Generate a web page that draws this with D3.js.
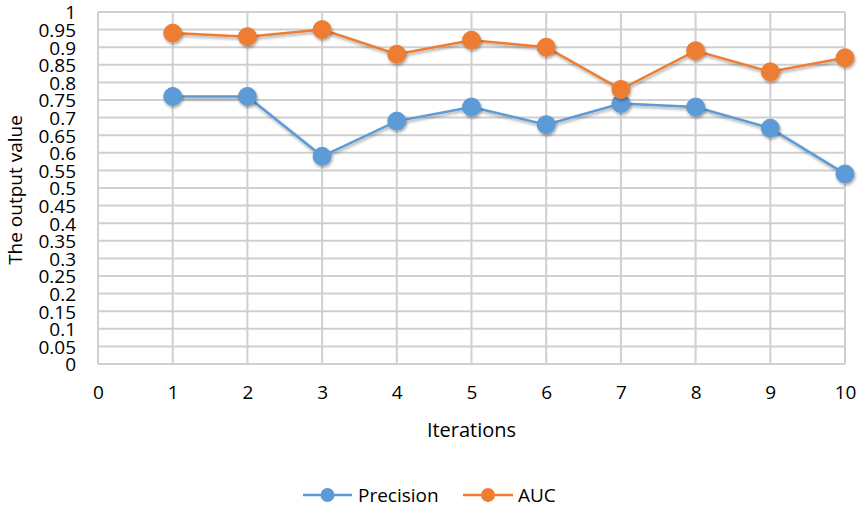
<!DOCTYPE html>
<html><head><meta charset="utf-8">
<script src="https://cdn.jsdelivr.net/npm/d3@7/dist/d3.min.js"></script>
<style>body{margin:0;background:#fff}svg{display:block}text{font-family:"Open Sans",Lato,sans-serif;fill:#000}</style>
</head><body>
<script>
const iterations = [1,2,3,4,5,6,7,8,9,10];
const precision = [0.76,0.76,0.59,0.69,0.73,0.68,0.74,0.73,0.67,0.54];
const auc = [0.94,0.93,0.95,0.88,0.92,0.90,0.78,0.89,0.83,0.87];
const xTicks = [0,1,2,3,4,5,6,7,8,9,10];
const yTicks = d3.range(0,21).map(i=>+(i*0.05).toFixed(2));
const seriesNames = ["Precision","AUC"];
const colors = ["#5B9BD5","#ED7D31"];

const W=858,H=509;
const FONT='"Open Sans",Lato,sans-serif';
const svg=d3.select("body").append("svg").attr("width",W).attr("height",H);
const defs=svg.append("defs");
const f=defs.append("filter").attr("id","sh").attr("x","-50%").attr("y","-50%").attr("width","200%").attr("height","200%");
f.append("feDropShadow").attr("dx",1).attr("dy",2).attr("stdDeviation",1.5).attr("flood-color","#000").attr("flood-opacity",0.35);

const x=d3.scaleLinear().domain([0,10]).range([98,845]);
const y=d3.scaleLinear().domain([0,1]).range([364,12]);

// grid
const g=svg.append("g");
g.selectAll(".hy").data(yTicks).join("line")
 .attr("x1",x(0)).attr("x2",x(10)).attr("y1",d=>y(d)).attr("y2",d=>y(d))
 .attr("stroke","#d0d0d0").attr("stroke-width",2);
g.selectAll(".vx").data(xTicks).join("line")
 .attr("y1",y(0)).attr("y2",y(1)).attr("x1",d=>x(d)).attr("x2",d=>x(d))
 .attr("stroke","#d0d0d0").attr("stroke-width",2);

// axes labels via d3 axes
const yAxis=svg.append("g").attr("transform",`translate(${x(0)},0)`)
 .call(d3.axisLeft(y).tickValues(yTicks).tickFormat(d=>String(d)).tickSize(0).tickPadding(22));
yAxis.select(".domain").remove();
yAxis.selectAll("text").attr("font-size",19).style("font-family",FONT).attr("fill","#000").attr("dy","0.36em");

const xAxis=svg.append("g").attr("transform",`translate(0,${y(0)})`)
 .call(d3.axisBottom(x).tickValues(xTicks).tickFormat(d3.format("d")).tickSize(0).tickPadding(24));
xAxis.select(".domain").remove();
xAxis.selectAll("text").attr("font-size",19).style("font-family",FONT).attr("fill","#000").attr("dy","0.6em");

svg.append("text").attr("transform",`translate(22,${(y(0)+y(1))/2+2}) rotate(-90)`)
 .attr("text-anchor","middle").attr("font-size",19).text("The output value");
svg.append("text").attr("x",(x(0)+x(10))/2).attr("y",437).attr("text-anchor","middle")
 .attr("font-size",20).text("Iterations");

const line=d3.line().x((d,i)=>x(iterations[i])).y(d=>y(d));
[precision,auc].forEach((s,k)=>{
  svg.append("path").datum(s).attr("d",line).attr("fill","none")
   .attr("stroke",colors[k]).attr("stroke-width",2.5).attr("filter","url(#sh)");
  svg.append("g").selectAll("circle").data(s).join("circle")
   .attr("cx",(d,i)=>x(iterations[i])).attr("cy",d=>y(d)).attr("r",9)
   .attr("fill",colors[k]).attr("stroke",colors[k]).attr("stroke-width",1).attr("filter","url(#sh)");
});

// legend
const leg=[{x1:303,x2:352,t:358},{x1:463,x2:513,t:518}];
leg.forEach((l,k)=>{
  const lg=svg.append("g");
  lg.append("line").attr("x1",l.x1).attr("x2",l.x2).attr("y1",495).attr("y2",495)
   .attr("stroke",colors[k]).attr("stroke-width",2.5);
  lg.append("circle").attr("cx",(l.x1+l.x2)/2).attr("cy",495).attr("r",7).attr("fill",colors[k]);
  lg.append("text").attr("x",l.t).attr("y",502).attr("font-size",19).text(seriesNames[k]);
});
</script>
</body></html>
